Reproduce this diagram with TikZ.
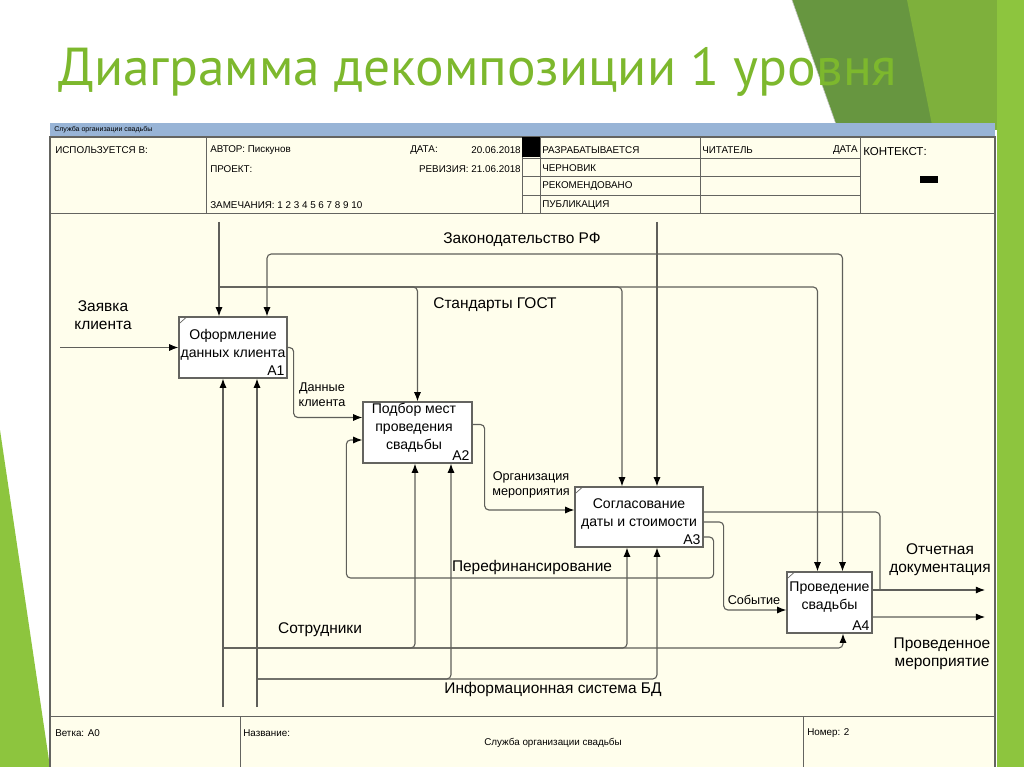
\documentclass[tikz,border=0pt]{standalone}
\usepackage{fontspec}
\setmainfont{Liberation Sans}
\newfontfamily\titlefont{PT Sans}
\usetikzlibrary{arrows.meta,calc}
\definecolor{slidegreen}{RGB}{141,197,62}
\definecolor{darkgreen}{RGB}{103,150,64}
\definecolor{midgreen}{RGB}{126,176,60}
\definecolor{titlegreen}{RGB}{125,184,45}
\definecolor{paper}{RGB}{255,254,236}
\definecolor{barblue}{RGB}{152,180,214}
\definecolor{frameline}{RGB}{100,100,96}
\definecolor{arrowline}{RGB}{95,95,90}

\begin{document}
\begin{tikzpicture}[
          x=0.025cm, y=-0.025cm,
          every node/.style={inner sep=0pt, font=\fontsize{10}{12.8}\selectfont},
          box/.style={draw=frameline, line width=0.9pt, fill=white, minimum height=1.525cm},
          num/.style={anchor=south east, inner sep=2pt},
          lbl/.style={align=center, font=\fontsize{11}{13}\selectfont},
          small/.style={align=center, font=\fontsize{9}{10.5}\selectfont},
          head/.style={anchor=west, font=\fontsize{7}{8}\selectfont},
          flow/.style={draw=arrowline, line width=0.8pt, rounded corners=3pt},
          >={Latex[length=6.5pt,width=5pt,color=black]},
        ]
        \useasboundingbox (0,0) rectangle (1024,767);
        \clip (0,0) rectangle (1024,767);
        \fill[white] (0,0) rectangle (1024,767);
        \fill[darkgreen] (792,0) -- (1024,0) -- (1024,130) -- (838,130) -- cycle;
        \fill[midgreen] (907,0) -- (1024,0) -- (1024,130) -- (933,130) -- cycle;
        \fill[slidegreen] (997,0) rectangle (1024,767);
        \fill[slidegreen] (0,430) -- (50,767) -- (0,767) -- cycle;
        \draw[gray!45, line width=0.4pt] (792,0) -- (838,130);
        \node[anchor=west, text=titlegreen, font=\titlefont\fontsize{38}{44}\selectfont] (title) at (58,72) {Диаграмма декомпозиции 1 уровня};

        \fill[paper] (50,123) rectangle (995,790);
        \fill[barblue] (50,123) rectangle (995,137);
        \node[anchor=west, font=\fontsize{5}{6}\selectfont] (bar) at (54,130) {Служба организации свадьбы};
        \draw[frameline, line width=1pt] (50,137) rectangle (995,790);
        \draw[frameline, line width=0.7pt] (50,213) -- (995,213) (50,716) -- (995,716);
        \foreach \xx in {206,522,540,700,860}
          \draw[frameline, line width=0.7pt] (\xx,137) -- (\xx,213);
        \foreach \yy in {158,176,195}
          \draw[frameline, line width=0.7pt] (522,\yy) -- (860,\yy);
        \foreach \xx in {240,803}
          \draw[frameline, line width=0.7pt] (\xx,716) -- (\xx,790);
        \fill[black] (522,137) rectangle (540,157);
        \fill[black] (920,176) rectangle (938,183);

        \node[head] (used) at (55,150) {ИСПОЛЬЗУЕТСЯ В:};
        \node[head] (author) at (210,150) {АВТОР: Пискунов};
        \node[head] (project) at (210,169) {ПРОЕКТ:};
        \node[head] (notes) at (210,205) {ЗАМЕЧАНИЯ: 1 2 3 4 5 6 7 8 9 10};
        \node[head] (date) at (410,150) {ДАТА:};
        \node[head, anchor=east] (dateval) at (521,150) {20.06.2018};
        \node[head, anchor=east] (rev) at (521,169) {РЕВИЗИЯ: 21.06.2018};
        \node[head] (work) at (542,150) {РАЗРАБАТЫВАЕТСЯ};
        \node[head] (draft) at (542,168) {ЧЕРНОВИК};
        \node[head] (recom) at (542,186) {РЕКОМЕНДОВАНО};
        \node[head] (publ) at (542,205) {ПУБЛИКАЦИЯ};
        \node[head] (reader) at (702,150) {ЧИТАТЕЛЬ};
        \node[head, anchor=east] (rdate) at (858,150) {ДАТА};
        \node[head, font=\fontsize{8.2}{9}\selectfont] (context) at (863,152) {КОНТЕКСТ:};
        \node[head] (node) at (55,733) {Ветка: А0};
        \node[head] (name) at (243,733) {Название:};
        \node[head, anchor=center] (namev) at (553,743) {Служба организации свадьбы};
        \node[head] (number) at (807,733) {Номер: 2};

        \node[box, minimum width=2.7cm] (a1) at (233,347.5) {};
        \node[box, minimum width=2.725cm] (a2) at (417.5,432.5) {};
        \node[box, minimum width=3.2cm, minimum height=1.5cm] (a3) at (639,517) {};
        \node[box, minimum width=2.125cm] (a4) at (829.5,602.5) {};
        \foreach \bx in {a1,a3,a4}
          \draw[frameline, line width=0.5pt] ($(\bx.north west)+(0,8)$) -- ($(\bx.north west)+(9,0)$);
        \node[align=center] (a1t) at (233,345) {Оформление\\данных клиента};
        \node[num] (a1n) at (a1.south east) {A1};
        \node[align=center] (a2t) at (414,428) {Подбор мест\\проведения\\свадьбы};
        \node[num] (a2n) at (a2.south east) {A2};
        \node[align=center] (a3t) at (639,513.5) {Согласование\\даты и стоимости};
        \node[num] (a3n) at (a3.south east) {A3};
        \node[align=center] (a4t) at (829.5,597.5) {Проведение\\свадьбы};
        \node[num] (a4n) at (a4.south east) {A4};

        \coordinate (req) at (60,347.5);
        \coordinate (gost) at (219,222);
        \coordinate (g1) at (219,287);
        \coordinate (law) at (657,222);
        \coordinate (l1) at (657,254);
        \coordinate (staff) at (223,707);
        \coordinate (s1) at (223,648);
        \coordinate (isbd) at (257,707);
        \coordinate (i1) at (257,679);
        \coordinate (dj) at (880,590);
        \coordinate (docs) at (985,590);
        \coordinate (done) at (985,617);

        \draw[flow,->] (req) -- (a1.west);
        \draw[flow,->] (gost) -- (gost |- a1.north);
        \draw[flow,->] (g1) -| (a2.north);
        \draw[flow,->] (g1) -| ($(a3.north)+(-17,0)$);
        \draw[flow,->] (g1) -| ($(a4.north)+(-12,0)$);
        \draw[flow,->] (law) -- (law |- a3.north);
        \draw[flow,->] (l1) -| ($(a1.north)+(34,0)$);
        \draw[flow,->] (l1) -| ($(a4.north)+(13,0)$);
        \draw[flow,->] (a1.east) -- ++(6,0) |- ($(a2.west)+(0,-15)$);
        \draw[flow,->] ($(a2.east)+(0,-8)$) -- ++(12,0) |- ($(a3.west)+(0,-7)$);
        \draw[flow] ($(a3.east)+(0,-5)$) -| (dj);
        \draw[flow,->] ($(a4.east)+(0,-12.5)$) -- (docs);
        \draw[flow,->] ($(a3.east)+(0,5)$) -- ++(20,0) |- ($(a4.west)+(0,7.5)$);
        \draw[flow,->] ($(a3.east)+(0,20)$) -- ++(10,0) |- ($(a2.west)+(-16,145.5)$) |- ($(a2.west)+(0,7.5)$);
        \draw[flow,->] ($(a4.east)+(0,14.5)$) -- (done);
        \draw[flow,->] (staff) -- (staff |- a1.south);
        \draw[flow,->] (s1) -| ($(a2.south)+(-2.5,0)$);
        \draw[flow,->] (s1) -| ($(a3.south)+(-12,0)$);
        \draw[flow,->] (s1) -| ($(a4.south)+(13.5,0)$);
        \draw[flow,->] (isbd) -- (isbd |- a1.south);
        \draw[flow,->] (i1) -| ($(a2.south)+(33.5,0)$);
        \draw[flow,->] (i1) -| ($(a3.south)+(18,0)$);

        \node[lbl] (reqlbl) at (103,315) {Заявка\\клиента};
        \node[lbl] (lawlbl) at (522,240) {Законодательство РФ};
        \node[lbl] (gostlbl) at (495,305) {Стандарты ГОСТ};
        \node[small] (datalbl) at (322,395) {Данные\\клиента};
        \node[small] (orglbl) at (531,485) {Организация\\мероприятия};
        \node[lbl] (finlbl) at (532,567) {Перефинансирование};
        \node[small] (evlbl) at (754,600) {Событие};
        \node[lbl] (docslbl) at (940,560) {Отчетная\\документация};
        \node[lbl] (donelbl) at (942,654) {Проведенное\\мероприятие};
        \node[lbl] (stafflbl) at (320,630) {Сотрудники};
        \node[lbl] (isbdlbl) at (553,689) {Информационная система БД};
        \end{tikzpicture}
\end{document}
